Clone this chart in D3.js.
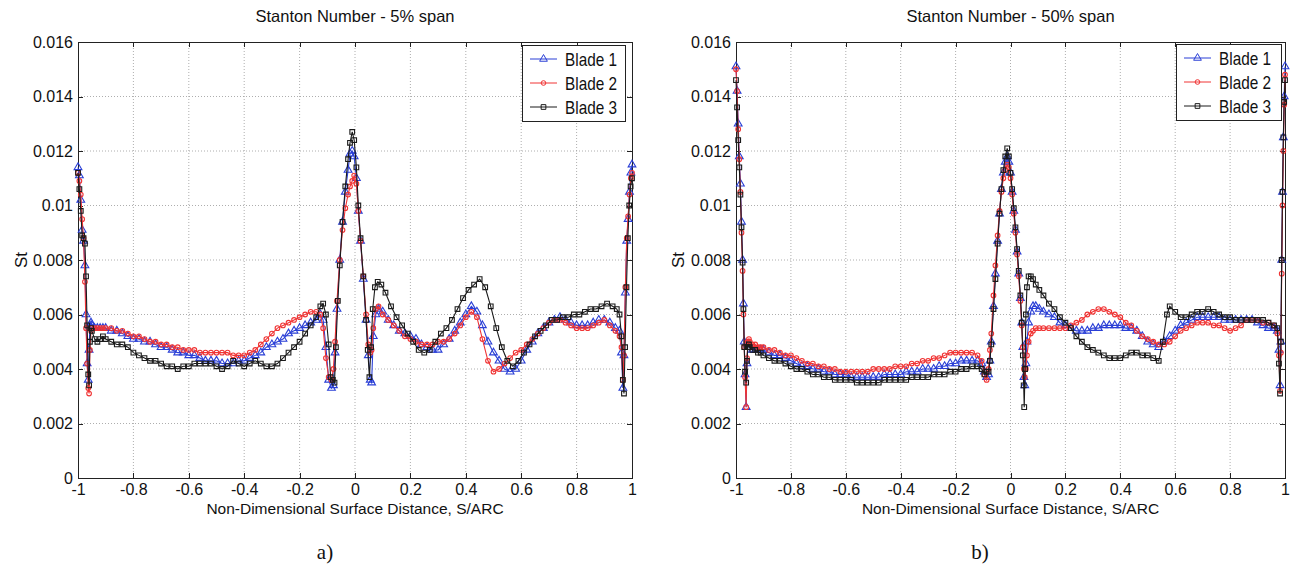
<!DOCTYPE html>
<html lang="en">
<head>
<meta charset="UTF-8">
<title>Stanton Number</title>
<style>
    body{ margin:0; background:#fff; }
    svg text{ font-family:"Liberation Sans", Arial, sans-serif; fill:#111; }
    .grid line{ stroke:#999; stroke-width:0.8; stroke-dasharray:1,2; }
    .axis path, .axis line{ fill:none; stroke:#222; stroke-width:1; shape-rendering:crispEdges; }
    .axis text{ font-size:16px; }
    .sub{ font-family:"Liberation Serif", "DejaVu Serif", serif !important; font-size:21px; }
</style>
</head>
<body>
<svg width="1290" height="569"></svg>
<script src="https://cdn.jsdelivr.net/npm/d3@7/dist/d3.min.js"></script>
<script>
// tick values
var xTicks = [-1, -0.8, -0.6, -0.4, -0.2, 0, 0.2, 0.4, 0.6, 0.8, 1];
var yTicks = [0, 0.002, 0.004, 0.006, 0.008, 0.01, 0.012, 0.014, 0.016];
var blades = ["Blade 1", "Blade 2", "Blade 3"];

// 5% span, [S/ARC, St]
var b1_5 = [[-1,.0114],[-.995,.0111],[-.99,.0102],[-.985,.0091],[-.98,.0087],[-.975,.0078],[-.971,.0060],[-.967,.0042],[-.963,.0036],[-.96,.0047],[-.957,.0056],[-.953,.0057],[-.95,.0056],[-.94,.0055],[-.93,.0055],[-.92,.0055],[-.91,.0055],[-.9,.0055],[-.88,.0054],[-.86,.0054],[-.84,.0053],[-.82,.0052],[-.8,.0051],[-.78,.0051],[-.76,.0050],[-.74,.0050],[-.72,.0049],[-.7,.0048],[-.68,.0048],[-.66,.0047],[-.64,.0046],[-.62,.0046],[-.6,.0045],[-.58,.0045],[-.56,.0044],[-.54,.0043],[-.52,.0043],[-.5,.0043],[-.48,.0042],[-.46,.0042],[-.44,.0042],[-.42,.0043],[-.4,.0043],[-.38,.0044],[-.36,.0045],[-.34,.0046],[-.32,.0048],[-.3,.0049],[-.28,.0050],[-.26,.0051],[-.24,.0053],[-.22,.0054],[-.2,.0055],[-.18,.0056],[-.16,.0057],[-.14,.0058],[-.125,.0060],[-.115,.0058],[-.105,.0048],[-.095,.0036],[-.085,.0033],[-.078,.0034],[-.072,.0046],[-.065,.0062],[-.055,.0080],[-.045,.0094],[-.035,.0105],[-.025,.0113],[-.018,.0119],[-.01,.0120],[-.003,.0118],[.005,.0110],[.012,.0098],[.02,.0087],[.03,.0073],[.04,.0058],[.048,.0045],[.055,.0036],[.06,.0035],[.066,.0052],[.075,.0060],[.085,.0062],[.1,.0061],[.12,.0058],[.14,.0056],[.16,.0054],[.18,.0053],[.2,.0052],[.22,.0051],[.24,.0049],[.26,.0048],[.28,.0047],[.3,.0047],[.32,.0049],[.34,.0051],[.36,.0054],[.38,.0057],[.4,.0060],[.42,.0063],[.44,.0061],[.46,.0056],[.48,.0050],[.5,.0046],[.52,.0043],[.54,.0040],[.56,.0039],[.58,.0040],[.6,.0043],[.62,.0047],[.64,.0050],[.66,.0053],[.68,.0055],[.7,.0057],[.72,.0058],[.74,.0059],[.76,.0058],[.78,.0057],[.8,.0056],[.82,.0056],[.84,.0056],[.86,.0057],[.88,.0058],[.9,.0058],[.92,.0057],[.94,.0055],[.955,.0054],[.962,.0046],[.967,.0033],[.971,.0045],[.976,.0068],[.981,.0087],[.986,.0095],[.991,.0105],[.996,.0112],[1,.0115]];
var b2_5 = [[-1,.0112],[-.995,.0109],[-.99,.0104],[-.985,.0095],[-.98,.0088],[-.975,.0072],[-.971,.0055],[-.967,.0042],[-.963,.0033],[-.96,.0031],[-.957,.0047],[-.953,.0054],[-.95,.0055],[-.94,.0055],[-.93,.0055],[-.92,.0055],[-.91,.0055],[-.9,.0055],[-.88,.0055],[-.86,.0054],[-.84,.0054],[-.82,.0053],[-.8,.0052],[-.78,.0052],[-.76,.0051],[-.74,.0050],[-.72,.0050],[-.7,.0049],[-.68,.0049],[-.66,.0048],[-.64,.0048],[-.62,.0047],[-.6,.0047],[-.58,.0047],[-.56,.0046],[-.54,.0046],[-.52,.0046],[-.5,.0046],[-.48,.0046],[-.46,.0046],[-.44,.0045],[-.42,.0045],[-.4,.0045],[-.38,.0046],[-.36,.0047],[-.34,.0049],[-.32,.0051],[-.3,.0053],[-.28,.0055],[-.26,.0056],[-.24,.0057],[-.22,.0058],[-.2,.0059],[-.18,.0060],[-.16,.0061],[-.14,.0061],[-.125,.0060],[-.115,.0055],[-.105,.0044],[-.095,.0037],[-.085,.0036],[-.078,.0040],[-.072,.0050],[-.065,.0065],[-.055,.0080],[-.045,.0091],[-.035,.0099],[-.025,.0104],[-.018,.0107],[-.01,.0109],[-.003,.0111],[.005,.0108],[.012,.0098],[.02,.0087],[.03,.0074],[.04,.0060],[.048,.0049],[.055,.0046],[.06,.0047],[.066,.0055],[.075,.0062],[.085,.0063],[.1,.0060],[.12,.0058],[.14,.0056],[.16,.0054],[.18,.0052],[.2,.0051],[.22,.0050],[.24,.0049],[.26,.0049],[.28,.0049],[.3,.0050],[.32,.0050],[.34,.0051],[.36,.0053],[.38,.0056],[.4,.0059],[.42,.0061],[.44,.0059],[.46,.0051],[.48,.0043],[.5,.0039],[.52,.0040],[.54,.0042],[.56,.0044],[.58,.0046],[.6,.0047],[.62,.0049],[.64,.0051],[.66,.0053],[.68,.0055],[.7,.0057],[.72,.0058],[.74,.0058],[.76,.0057],[.78,.0056],[.8,.0055],[.82,.0055],[.84,.0055],[.86,.0056],[.88,.0057],[.9,.0058],[.92,.0056],[.94,.0054],[.955,.0052],[.962,.0048],[.967,.0036],[.971,.0045],[.976,.0070],[.981,.0088],[.986,.0096],[.991,.0104],[.996,.0110],[1,.0112]];
var b3_5 = [[-1,.0112],[-.995,.0106],[-.99,.0098],[-.985,.0089],[-.98,.0088],[-.975,.0086],[-.971,.0074],[-.967,.0056],[-.963,.0038],[-.96,.0034],[-.957,.0050],[-.953,.0055],[-.95,.0054],[-.94,.0051],[-.93,.0050],[-.92,.0051],[-.91,.0052],[-.9,.0051],[-.88,.0050],[-.86,.0049],[-.84,.0049],[-.82,.0048],[-.8,.0046],[-.78,.0045],[-.76,.0044],[-.74,.0043],[-.72,.0043],[-.7,.0042],[-.68,.0041],[-.66,.0041],[-.64,.0040],[-.62,.0041],[-.6,.0041],[-.58,.0042],[-.56,.0042],[-.54,.0042],[-.52,.0042],[-.5,.0041],[-.48,.0040],[-.46,.0041],[-.44,.0043],[-.42,.0042],[-.4,.0041],[-.38,.0042],[-.36,.0043],[-.34,.0042],[-.32,.0041],[-.3,.0041],[-.28,.0042],[-.26,.0044],[-.24,.0046],[-.22,.0048],[-.2,.0050],[-.18,.0053],[-.16,.0056],[-.14,.0059],[-.125,.0063],[-.115,.0064],[-.105,.0060],[-.095,.0049],[-.088,.0037],[-.08,.0036],[-.074,.0035],[-.069,.0048],[-.062,.0065],[-.055,.0078],[-.045,.0094],[-.035,.0107],[-.025,.0117],[-.018,.0123],[-.01,.0127],[-.003,.0124],[.005,.0114],[.012,.0100],[.02,.0088],[.03,.0074],[.04,.0058],[.046,.0047],[.052,.0037],[.058,.0048],[.064,.0062],[.072,.0070],[.082,.0072],[.095,.0071],[.11,.0068],[.13,.0063],[.15,.0059],[.17,.0056],[.19,.0053],[.21,.0050],[.23,.0047],[.25,.0046],[.27,.0047],[.29,.0050],[.31,.0053],[.33,.0055],[.35,.0058],[.37,.0062],[.39,.0066],[.41,.0069],[.43,.0071],[.45,.0073],[.47,.0070],[.49,.0063],[.51,.0055],[.53,.0048],[.55,.0043],[.57,.0041],[.59,.0043],[.61,.0046],[.63,.0049],[.65,.0052],[.67,.0054],[.69,.0056],[.71,.0058],[.73,.0058],[.75,.0059],[.77,.0059],[.79,.0060],[.81,.0060],[.83,.0061],[.85,.0062],[.87,.0062],[.89,.0063],[.91,.0064],[.93,.0063],[.945,.0062],[.955,.0060],[.962,.0052],[.967,.0036],[.971,.0031],[.975,.0048],[.98,.0070],[.985,.0088],[.99,.0100],[.995,.0107],[1,.0110]];

// 50% span, [S/ARC, St]
var b1_50 = [[-1,.0151],[-.996,.0142],[-.992,.0130],[-.988,.0118],[-.984,.0108],[-.98,.0094],[-.976,.0080],[-.973,.0064],[-.97,.0050],[-.967,.0038],[-.963,.0026],[-.96,.0042],[-.957,.0049],[-.953,.0049],[-.95,.0048],[-.94,.0047],[-.93,.0047],[-.92,.0047],[-.91,.0047],[-.9,.0047],[-.88,.0046],[-.86,.0045],[-.84,.0045],[-.82,.0044],[-.8,.0043],[-.78,.0042],[-.76,.0041],[-.74,.0041],[-.72,.0040],[-.7,.0040],[-.68,.0039],[-.66,.0039],[-.64,.0038],[-.62,.0038],[-.6,.0038],[-.58,.0037],[-.56,.0037],[-.54,.0037],[-.52,.0037],[-.5,.0037],[-.48,.0037],[-.46,.0038],[-.44,.0038],[-.42,.0038],[-.4,.0038],[-.38,.0039],[-.36,.0039],[-.34,.0039],[-.32,.0040],[-.3,.0040],[-.28,.0040],[-.26,.0041],[-.24,.0041],[-.22,.0042],[-.2,.0042],[-.18,.0043],[-.16,.0043],[-.14,.0043],[-.12,.0043],[-.105,.0042],[-.095,.0039],[-.087,.0037],[-.08,.0038],[-.075,.0043],[-.07,.0050],[-.062,.0063],[-.055,.0075],[-.047,.0087],[-.04,.0097],[-.033,.0106],[-.026,.0112],[-.019,.0116],[-.012,.0118],[-.006,.0116],[0,.0112],[.006,.0105],[.012,.0098],[.018,.0091],[.024,.0083],[.03,.0075],[.036,.0066],[.041,.0057],[.045,.0048],[.049,.0037],[.052,.0034],[.056,.0042],[.06,.0050],[.066,.0057],[.074,.0061],[.082,.0063],[.092,.0063],[.105,.0062],[.12,.0061],[.14,.0060],[.16,.0059],[.18,.0057],[.2,.0056],[.22,.0055],[.24,.0054],[.26,.0054],[.28,.0054],[.3,.0055],[.32,.0055],[.34,.0056],[.36,.0056],[.38,.0056],[.4,.0056],[.42,.0055],[.44,.0055],[.46,.0054],[.48,.0052],[.5,.0050],[.52,.0049],[.54,.0048],[.56,.0050],[.58,.0052],[.6,.0054],[.62,.0056],[.64,.0057],[.66,.0058],[.68,.0059],[.7,.0059],[.72,.0059],[.74,.0059],[.76,.0059],[.78,.0058],[.8,.0058],[.82,.0058],[.84,.0058],[.86,.0058],[.88,.0058],[.9,.0057],[.92,.0056],[.94,.0055],[.96,.0055],[.972,.0054],[.978,.0047],[.982,.0034],[.985,.0050],[.988,.0080],[.991,.0105],[.994,.0125],[.997,.0140],[1,.0151]];
var b2_50 = [[-1,.0150],[-.996,.0142],[-.992,.0128],[-.988,.0117],[-.984,.0105],[-.98,.0090],[-.976,.0076],[-.973,.0060],[-.97,.0048],[-.967,.0037],[-.963,.0026],[-.96,.0044],[-.957,.0050],[-.953,.0051],[-.95,.0050],[-.94,.0049],[-.93,.0049],[-.92,.0048],[-.91,.0048],[-.9,.0048],[-.88,.0047],[-.86,.0047],[-.84,.0046],[-.82,.0045],[-.8,.0045],[-.78,.0044],[-.76,.0043],[-.74,.0042],[-.72,.0042],[-.7,.0041],[-.68,.0041],[-.66,.0040],[-.64,.0040],[-.62,.0039],[-.6,.0039],[-.58,.0039],[-.56,.0039],[-.54,.0039],[-.52,.0039],[-.5,.0040],[-.48,.0040],[-.46,.0040],[-.44,.0040],[-.42,.0041],[-.4,.0041],[-.38,.0041],[-.36,.0042],[-.34,.0042],[-.32,.0043],[-.3,.0043],[-.28,.0044],[-.26,.0044],[-.24,.0045],[-.22,.0046],[-.2,.0046],[-.18,.0046],[-.16,.0046],[-.14,.0046],[-.12,.0045],[-.105,.0043],[-.095,.0038],[-.087,.0036],[-.08,.0040],[-.075,.0047],[-.07,.0053],[-.062,.0067],[-.055,.0078],[-.047,.0089],[-.04,.0098],[-.033,.0105],[-.026,.0110],[-.019,.0113],[-.012,.0115],[-.006,.0114],[0,.0110],[.006,.0104],[.012,.0097],[.018,.0090],[.024,.0082],[.03,.0074],[.036,.0065],[.041,.0056],[.045,.0048],[.049,.0040],[.052,.0037],[.056,.0040],[.06,.0045],[.066,.0050],[.074,.0053],[.082,.0054],[.092,.0055],[.105,.0055],[.12,.0055],[.14,.0055],[.16,.0055],[.18,.0055],[.2,.0055],[.22,.0056],[.24,.0057],[.26,.0058],[.28,.0060],[.3,.0061],[.32,.0062],[.34,.0062],[.36,.0061],[.38,.0060],[.4,.0059],[.42,.0057],[.44,.0056],[.46,.0054],[.48,.0052],[.5,.0051],[.52,.0050],[.54,.0049],[.56,.0049],[.58,.0050],[.6,.0052],[.62,.0054],[.64,.0055],[.66,.0056],[.68,.0057],[.7,.0057],[.72,.0057],[.74,.0056],[.76,.0056],[.78,.0055],[.8,.0054],[.82,.0055],[.84,.0056],[.86,.0058],[.88,.0058],[.9,.0058],[.92,.0057],[.94,.0057],[.96,.0056],[.972,.0053],[.978,.0045],[.982,.0032],[.985,.0046],[.988,.0075],[.991,.0100],[.994,.0120],[.997,.0137],[1,.0148]];
var b3_50 = [[-1,.0146],[-.996,.0136],[-.992,.0124],[-.988,.0114],[-.984,.0104],[-.98,.0092],[-.976,.0079],[-.973,.0062],[-.97,.0048],[-.967,.0039],[-.963,.0035],[-.96,.0043],[-.957,.0048],[-.953,.0049],[-.95,.0048],[-.94,.0047],[-.93,.0047],[-.92,.0046],[-.91,.0046],[-.9,.0045],[-.88,.0044],[-.86,.0043],[-.84,.0043],[-.82,.0042],[-.8,.0041],[-.78,.0040],[-.76,.0040],[-.74,.0039],[-.72,.0038],[-.7,.0038],[-.68,.0037],[-.66,.0037],[-.64,.0036],[-.62,.0036],[-.6,.0036],[-.58,.0036],[-.56,.0035],[-.54,.0035],[-.52,.0035],[-.5,.0035],[-.48,.0035],[-.46,.0036],[-.44,.0036],[-.42,.0036],[-.4,.0036],[-.38,.0036],[-.36,.0037],[-.34,.0037],[-.32,.0037],[-.3,.0037],[-.28,.0038],[-.26,.0038],[-.24,.0038],[-.22,.0039],[-.2,.0039],[-.18,.0040],[-.16,.0040],[-.14,.0041],[-.12,.0041],[-.105,.0040],[-.095,.0038],[-.087,.0039],[-.08,.0039],[-.075,.0043],[-.07,.0049],[-.062,.0062],[-.055,.0073],[-.047,.0086],[-.04,.0097],[-.033,.0106],[-.026,.0113],[-.019,.0118],[-.012,.0121],[-.006,.0118],[0,.0112],[.006,.0106],[.012,.0099],[.018,.0092],[.024,.0084],[.03,.0076],[.036,.0067],[.041,.0057],[.045,.0045],[.048,.0034],[.05,.0026],[.053,.0040],[.056,.0060],[.06,.0070],[.066,.0074],[.074,.0074],[.082,.0073],[.092,.0071],[.105,.0069],[.12,.0067],[.14,.0064],[.16,.0062],[.18,.0059],[.2,.0057],[.22,.0055],[.24,.0052],[.26,.0050],[.28,.0048],[.3,.0047],[.32,.0046],[.34,.0045],[.36,.0044],[.38,.0044],[.4,.0044],[.42,.0045],[.44,.0046],[.46,.0046],[.48,.0045],[.5,.0045],[.52,.0044],[.54,.0043],[.555,.0050],[.57,.0060],[.58,.0063],[.6,.0061],[.62,.0059],[.64,.0059],[.66,.0060],[.68,.0061],[.7,.0061],[.72,.0062],[.74,.0061],[.76,.0060],[.78,.0059],[.8,.0059],[.82,.0058],[.84,.0058],[.86,.0058],[.88,.0058],[.9,.0058],[.92,.0058],[.94,.0057],[.96,.0056],[.972,.0055],[.978,.0042],[.982,.0031],[.985,.0050],[.988,.0080],[.991,.0105],[.994,.0125],[.997,.0138],[1,.0146]];

var colors = ["#2a3fd6", "#f03434", "#1a1a1a"];
var symbols = [d3.symbolTriangle, d3.symbolCircle, d3.symbolSquare];
var symSize = [26, 17, 22];

var svg = d3.select("svg");

var panels = [
    {title: "Stanton Number - 5% span", sub: "a)", x0: 78, x1: 632, ylab: 21, subX: 325,
     series: [b1_5, b2_5, b3_5], leg: {x: 522, y: 45, w: 103, h: 76}},
    {title: "Stanton Number - 50% span", sub: "b)", x0: 736, x1: 1285, ylab: 678, subX: 980,
     series: [b1_50, b2_50, b3_50], leg: {x: 1176, y: 44, w: 105, h: 76}}
];

var plotTop = 42, plotBottom = 478;
var fmt = function(d){ return String(+d.toFixed(4)); };

panels.forEach(function(p){
    var x = d3.scaleLinear().domain([-1, 1]).range([p.x0, p.x1]);
    var y = d3.scaleLinear().domain([0, 0.016]).range([plotBottom, plotTop]);
    var g = svg.append("g");

    // dotted grid
    var grid = g.append("g").attr("class", "grid");
    grid.selectAll(".gx").data(xTicks.slice(1, -1)).enter().append("line")
        .attr("x1", function(d){ return x(d); }).attr("x2", function(d){ return x(d); })
        .attr("y1", plotTop).attr("y2", plotBottom);
    grid.selectAll(".gy").data(yTicks.slice(1, -1)).enter().append("line")
        .attr("x1", p.x0).attr("x2", p.x1)
        .attr("y1", function(d){ return y(d); }).attr("y2", function(d){ return y(d); });

    // axes, ticks pointing inward
    g.append("g").attr("class", "axis").attr("transform", "translate(0," + plotBottom + ")")
        .call(d3.axisBottom(x).tickValues(xTicks).tickFormat(fmt).tickSizeInner(-5).tickSizeOuter(0).tickPadding(6));
    g.append("g").attr("class", "axis").attr("transform", "translate(0," + plotTop + ")")
        .call(d3.axisTop(x).tickValues(xTicks).tickFormat("").tickSizeInner(-5).tickSizeOuter(0));
    g.append("g").attr("class", "axis").attr("transform", "translate(" + p.x0 + ",0)")
        .call(d3.axisLeft(y).tickValues(yTicks).tickFormat(fmt).tickSizeInner(-5).tickSizeOuter(0).tickPadding(5));
    g.append("g").attr("class", "axis").attr("transform", "translate(" + p.x1 + ",0)")
        .call(d3.axisRight(y).tickValues(yTicks).tickFormat("").tickSizeInner(-5).tickSizeOuter(0));
    g.selectAll(".axis .domain").remove();
    g.append("rect").attr("x", p.x0).attr("y", plotTop).attr("width", p.x1 - p.x0).attr("height", plotBottom - plotTop)
        .attr("fill", "none").attr("stroke", "#222").attr("shape-rendering", "crispEdges");

    // series
    var line = d3.line().x(function(d){ return x(d[0]); }).y(function(d){ return y(d[1]); });
    p.series.forEach(function(s, i){
        g.append("path").datum(s).attr("d", line)
            .attr("fill", "none").attr("stroke", colors[i]).attr("stroke-width", 1.1);
        g.selectAll(".m" + i).data(s).enter().append("path")
            .attr("class", "m" + i)
            .attr("transform", function(d){ return "translate(" + x(d[0]) + "," + y(d[1]) + ")"; })
            .attr("d", d3.symbol().type(symbols[i]).size(symSize[i]))
            .attr("fill", "none").attr("stroke", colors[i]).attr("stroke-width", 1.1);
    });

    // titles and labels
    svg.append("text").attr("x", (p.x0 + p.x1) / 2).attr("y", 22).attr("text-anchor", "middle")
        .style("font-size", "16.5px").text(p.title);
    svg.append("text").attr("x", (p.x0 + p.x1) / 2).attr("y", 514).attr("text-anchor", "middle")
        .style("font-size", "15.5px").text("Non-Dimensional Surface Distance, S/ARC");
    svg.append("text").attr("transform", "translate(" + p.ylab + "," + ((plotTop + plotBottom) / 2) + ") rotate(-90)")
        .attr("text-anchor", "middle").attr("dy", "0.35em").style("font-size", "17px").text("St");
    svg.append("text").attr("class", "sub").attr("x", p.subX).attr("y", 559).attr("text-anchor", "middle").text(p.sub);

    // legend
    var lg = g.append("g").attr("transform", "translate(" + p.leg.x + "," + p.leg.y + ")");
    lg.append("rect").attr("width", p.leg.w).attr("height", p.leg.h)
        .attr("fill", "#fff").attr("stroke", "#222").attr("shape-rendering", "crispEdges");
    blades.forEach(function(b, i){
        var ly = 14 + i * 24;
        lg.append("line").attr("x1", 8).attr("x2", 35).attr("y1", ly).attr("y2", ly)
            .attr("stroke", colors[i]).attr("stroke-width", 1);
        lg.append("path").attr("transform", "translate(21.5," + ly + ")")
            .attr("d", d3.symbol().type(symbols[i]).size(symSize[i]))
            .attr("fill", "none").attr("stroke", colors[i]).attr("stroke-width", 1);
        lg.append("text").attr("x", 43).attr("y", ly).attr("dy", "0.35em")
            .attr("textLength", 52).attr("lengthAdjust", "spacingAndGlyphs")
            .style("font-size", "19px").text(b);
    });
});
</script>
</body>
</html>
